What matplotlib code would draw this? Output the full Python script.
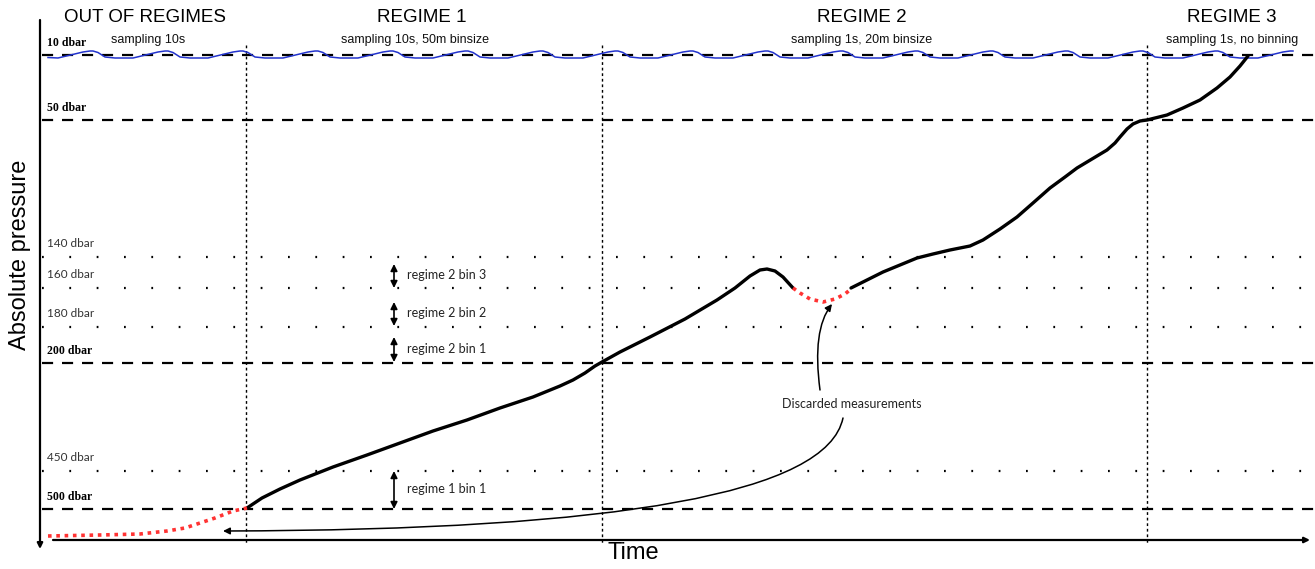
import numpy as np
import matplotlib
matplotlib.use("Agg")
import matplotlib.pyplot as plt
from matplotlib.path import Path
from matplotlib.patches import FancyArrowPatch

# -------------------- schematic data (canvas units, y grows downward) --------------------
level_names = ["10 dbar", "50 dbar", "140 dbar", "160 dbar", "180 dbar", "200 dbar", "450 dbar", "500 dbar"]
level_y = [55, 120, 257, 288, 327, 363, 471, 509]
level_bold = [True, True, False, False, False, True, False, True]

regime_titles = ["OUT OF REGIMES", "REGIME 1", "REGIME 2", "REGIME 3"]
regime_notes = ["sampling 10s", "sampling 10s, 50m binsize", "sampling 1s, 20m binsize", "sampling 1s, no binning"]
regime_x = [145, 422, 862, 1232]
note_x = [148, 415, 862, 1232]
regime_bounds = [246, 602, 1147]

bin_labels = ["regime 2 bin 3", "regime 2 bin 2", "regime 2 bin 1", "regime 1 bin 1"]
bin_top = [264, 302, 337, 471]
bin_bottom = [288, 326, 362, 509]

# profile: time vs pressure (schematic)
pre_t = [48, 100, 140, 167, 185, 200, 215, 233, 247]
pre_p = [536, 535, 534, 531, 528, 523, 518, 511, 508]

prof1_t = [247, 262, 280, 300, 333, 367, 400, 433, 467, 500, 533, 560, 573, 585, 595, 602,
           620, 650, 685, 717, 735, 750, 760, 767, 775, 783, 793]
prof1_p = [508, 498, 489, 480, 467, 455, 443, 431, 420, 408, 397, 386, 380, 373, 366, 362,
           352, 337, 319, 300, 288, 276, 270, 269, 271, 277, 288]

drop_t = [793, 800, 810, 823, 835, 845, 851]
drop_p = [288, 293, 299, 302, 299, 294, 289]

prof2_t = [851, 867, 883, 900, 917, 933, 950, 960, 970, 983, 1000, 1017, 1033, 1050, 1065, 1077,
           1092, 1107, 1115, 1120, 1127, 1133, 1140, 1147, 1167, 1183, 1200, 1217, 1230, 1240, 1248]
prof2_p = [288, 280, 272, 265, 258, 254, 250, 248, 246, 240, 229, 217, 203, 188, 177, 168,
           159, 150, 143, 137, 129, 124, 121, 120, 115, 108, 100, 88, 77, 66, 56]

# one period of the sea surface wave
wave_dx = [0, 5, 12, 22, 40, 65, 72, 75]
wave_dy = [51, 52.5, 57, 58, 58, 52, 51, 51]

# -------------------- figure --------------------
fig = plt.figure(figsize=(13.15, 5.69), dpi=100)
ax = fig.add_axes([0, 0, 1, 1])
ax.set_xlim(0, 1315)
ax.set_ylim(569, 0)
ax.axis("off")

sans = "Liberation Sans"
light = "Lato"
serif = "Liberation Serif"

# level lines
for name, y, bold in zip(level_names, level_y, level_bold):
    if bold:
        ax.plot([42, 1315], [y, y], color="black", lw=1.6, ls=(0, (5, 4)))
        ax.text(47, y - 12, name, fontsize=8.5, fontweight="bold", family=serif,
                va="center", ha="left", color="black")
    else:
        ax.plot([42, 1315], [y, y], color="black", lw=1.6, ls=(0, (0.8, 11.5)),
                dash_capstyle="butt")
        ax.text(47, y - 14, name, fontsize=8.5, family=light, va="center", ha="left",
                color="#333333")

# regime boundaries
for x in regime_bounds:
    ax.plot([x, x], [45, 545], color="black", lw=1.0, ls=(0, (2, 2)))

# headings
for title, note, tx, nx in zip(regime_titles, regime_notes, regime_x, note_x):
    ax.text(tx, 17, title, fontsize=13.5, family=sans, ha="center", va="center")
    ax.text(nx, 40, note, fontsize=9, family=sans, ha="center", va="center", color="#111111")

# sea surface
wx, wy = [48], [57.5]
start = 18
while start < 1300:
    wx += [start + d for d in wave_dx[:-1]]
    wy += wave_dy[:-1]
    start += wave_dx[-1]
wx = np.array(wx, dtype=float)
wy = np.array(wy, dtype=float)
keep = (wx >= 48) & (wx <= 1295)
ax.plot(wx[keep], wy[keep], color="#2233cc", lw=1.1, solid_joinstyle="round")

# profile
ax.plot(prof1_t, prof1_p, color="black", lw=2.4, solid_capstyle="round", solid_joinstyle="round")
ax.plot(prof2_t, prof2_p, color="black", lw=2.4, solid_capstyle="round", solid_joinstyle="round")
ax.plot(pre_t, pre_p, color="#ff3333", lw=2.6, ls=(0, (1, 1.3)))
ax.plot(drop_t, drop_p, color="#ff3333", lw=2.6, ls=(0, (1, 1.3)))

# bin arrows
for lab, top, bot in zip(bin_labels, bin_top, bin_bottom):
    ax.annotate("", xy=(394, bot), xytext=(394, top),
                arrowprops=dict(arrowstyle="<|-|>", color="black", lw=1.2,
                                mutation_scale=10, shrinkA=0, shrinkB=0))
    ax.text(407, (top + bot) / 2 - 1, lab, fontsize=9, family=light, va="center",
            ha="left", color="#222222")

# axes arrows
ax.annotate("", xy=(40, 549), xytext=(40, 20),
            arrowprops=dict(arrowstyle="-|>", color="black", lw=1.6,
                            mutation_scale=8, shrinkA=0, shrinkB=0))
ax.annotate("", xy=(1310, 540), xytext=(53, 540),
            arrowprops=dict(arrowstyle="-|>", color="black", lw=1.6,
                            mutation_scale=8, shrinkA=0, shrinkB=0))
ax.text(633, 553, "Time", fontsize=17, family=sans, ha="center", va="center")
ax.text(20, 255, "Absolute pressure", fontsize=17, family=sans, ha="center",
        va="center", rotation=90)

# discarded measurements annotation
ax.text(852, 404, "Discarded measurements", fontsize=9, family=light, ha="center",
        va="center", color="#222222")
up = Path([(820, 390), (812, 330), (832, 304)], [Path.MOVETO, Path.CURVE3, Path.CURVE3])
ax.add_patch(FancyArrowPatch(path=up, arrowstyle="-|>", mutation_scale=10,
                             color="black", lw=1.1))
down = Path([(843, 418), (820, 530), (223, 531)], [Path.MOVETO, Path.CURVE3, Path.CURVE3])
ax.add_patch(FancyArrowPatch(path=down, arrowstyle="-|>", mutation_scale=10,
                             color="black", lw=1.1))

fig.savefig("out.png", dpi=100, facecolor="white")
